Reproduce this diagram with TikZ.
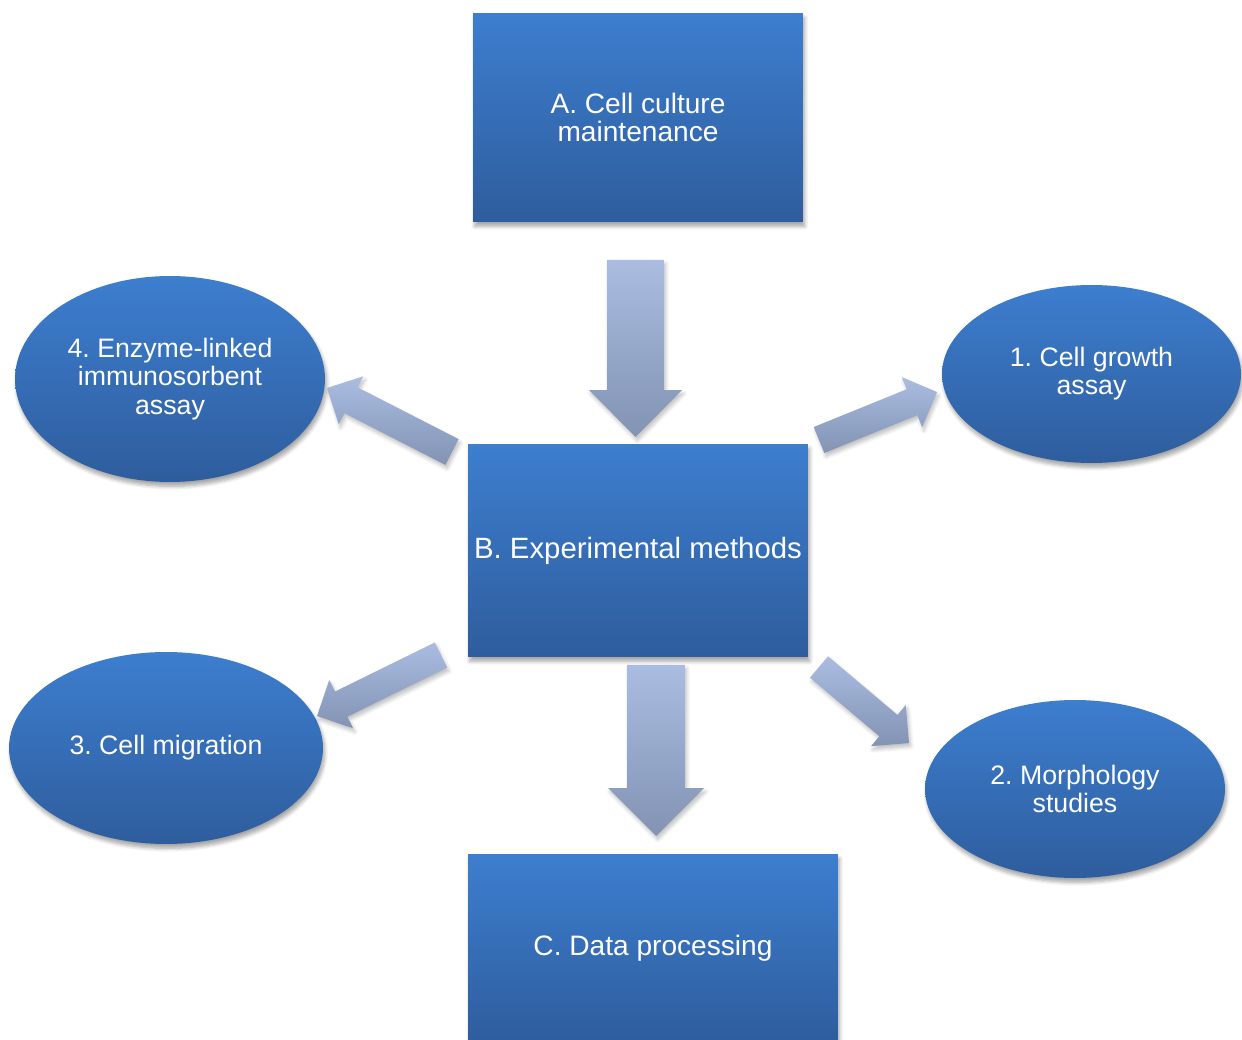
\documentclass[tikz,border=0pt]{standalone}
\usepackage{fontspec}
\setmainfont{Liberation Sans}
\frenchspacing
\usetikzlibrary{calc,shapes.geometric,shadows.blur}

\definecolor{boxtop}{HTML}{3D7ECF}
\definecolor{boxbottom}{HTML}{2E5D9D}
\definecolor{arrowtop}{HTML}{AABDE1}
\definecolor{arrowbottom}{HTML}{8293B3}

\tikzset{
  blueshade/.style={top color=boxtop, bottom color=boxbottom, draw=none,
    text=white, align=center,
    blur shadow={shadow xshift=1pt, shadow yshift=-2.5pt, shadow opacity=35, shadow blur steps=6}},
  box/.style={blueshade, rectangle, inner sep=0pt, font=\fontsize{16}{16}\selectfont},
  oval/.style={blueshade, ellipse, inner sep=0pt, font=\fontsize{15.2}{16}\selectfont},
  arrowshade/.style={top color=arrowtop, bottom color=arrowbottom,
    blur shadow={shadow xshift=1pt, shadow yshift=-2pt, shadow opacity=25, shadow blur steps=5}}
}

% block arrow: tail, tip, shaft half width, head half width, head length
\newcommand{\blockarrow}[5]{%
  \coordinate (neck) at ($(#2)!#5!(#1)$);
  \shade[arrowshade] ($(#1)!#3!90:(#2)$) -- ($(neck)!#3!90:(#2)$) -- ($(neck)!#4!90:(#2)$) -- (#2)
    -- ($(neck)!#4!-90:(#2)$) -- ($(neck)!#3!-90:(#2)$) -- ($(#1)!#3!-90:(#2)$) -- cycle;
}

\begin{document}
\begin{tikzpicture}[x=0.02cm, y=-0.02cm]
  \useasboundingbox (0,0) rectangle (1242,1040);

  % Boxes
  \node[box, minimum width=6.6cm, minimum height=4.18cm] (culture) at (638,117.5) {A. Cell culture\\maintenance};
  \node[box, minimum width=6.8cm, minimum height=4.26cm, font=\fontsize{16.7}{16}\selectfont] (methods) at (638,550.5) {B. Experimental methods};
  \node[box, minimum width=7.4cm, minimum height=3.76cm] (data) at (653,948) {C. Data processing};

  % Methods
  \node[oval, minimum width=6.2cm, minimum height=4.12cm] (elisa) at (170,379) {4. Enzyme-linked\\immunosorbent\\assay};
  \node[oval, minimum width=5.98cm, minimum height=3.56cm] (growth) at (1091.5,374) {1. Cell growth\\assay};
  \node[oval, minimum width=6.28cm, minimum height=3.84cm] (migration) at (166,748) {3. Cell migration};
  \node[oval, minimum width=6.0cm, minimum height=3.56cm] (morph) at (1075,789) {2. Morphology\\studies};

  % Arrow end points
  \coordinate (a1) at (635.5,260);  \coordinate (a2) at (635.5,437);
  \coordinate (c1) at (656,665);    \coordinate (c2) at (656,836);
  \coordinate (e1) at (452,452);    \coordinate (e2) at (327,388);
  \coordinate (g1) at (819,440);    \coordinate (g2) at (937,392);
  \coordinate (m1) at (441,655);    \coordinate (m2) at (317,716);
  \coordinate (p1) at (819,667);    \coordinate (p2) at (909,743);

  % Arrows
  \blockarrow{a1}{a2}{0.57cm}{0.93cm}{0.94cm}
  \blockarrow{c1}{c2}{0.58cm}{0.96cm}{0.96cm}
  \blockarrow{e1}{e2}{0.29cm}{0.54cm}{0.54cm}
  \blockarrow{g1}{g2}{0.28cm}{0.54cm}{0.54cm}
  \blockarrow{m1}{m2}{0.28cm}{0.54cm}{0.54cm}
  \blockarrow{p1}{p2}{0.28cm}{0.54cm}{0.54cm}
\end{tikzpicture}
\end{document}
